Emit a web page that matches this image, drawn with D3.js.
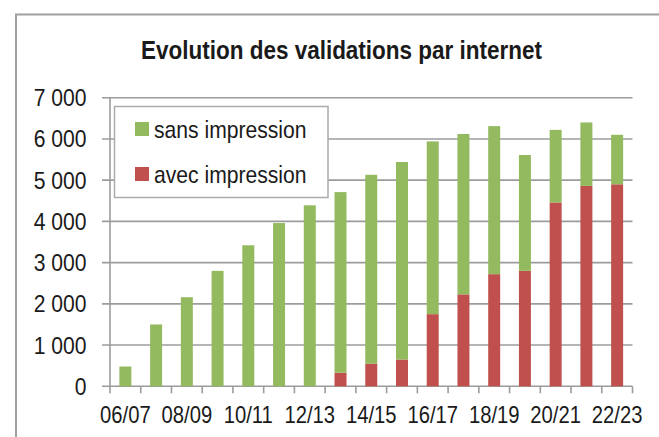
<!DOCTYPE html>
<html>
<head>
<meta charset="utf-8">
<script src="https://cdn.jsdelivr.net/npm/d3@7"></script>
<style>
  body { margin: 0; background: #fff; }
  text { font-family: "Liberation Sans", Arial, sans-serif; fill: #1a1a1a; }
</style>
</head>
<body>
<div id="chart"></div>
<script>
// data
const seasons = ["06/07","07/08","08/09","09/10","10/11","11/12","12/13","13/14","14/15",
                 "15/16","16/17","17/18","18/19","19/20","20/21","21/22","22/23"]
const avecImpression = [0,0,0,0,0,0,0,330,550,650,1750,2230,2720,2800,4460,4860,4900]
const sansImpression = [480,1500,2160,2800,3420,3960,4390,4380,4580,4790,4190,3890,3590,2810,1760,1540,1200]
const yTicks = [0,1000,2000,3000,4000,5000,6000,7000]
const xLabels = ["06/07","08/09","10/11","12/13","14/15","16/17","18/19","20/21","22/23"]
const seriesNames = ["sans impression","avec impression"]
const colors = { "avec impression": "#c0504d", "sans impression": "#93ba5f" }

const W = 659, H = 437
const sx = 0.88 // the source text is squeezed horizontally

const svg = d3.select("#chart").append("svg")
  .attr("width", W).attr("height", H)

// outer frame
svg.append("path")
  .attr("d", `M16,${H} L16,14.5 L${W},14.5`)
  .attr("fill", "none").attr("stroke", "#a0a0a0").attr("stroke-width", 2)

// title
svg.append("text")
  .attr("transform", `translate(341.5,59) scale(0.9,1)`)
  .attr("text-anchor", "middle")
  .style("font-size", "25px").style("font-weight", "bold")
  .text("Evolution des validations par internet")

const plot = { left: 110, right: 632.5, top: 97.7, bottom: 386.3 }

const x = d3.scaleBand()
  .domain(seasons)
  .range([plot.left, plot.right])
  .paddingInner(0.61).paddingOuter(0.305)

const y = d3.scaleLinear()
  .domain([0, 7000])
  .range([plot.bottom, plot.top])

// gridlines
svg.append("g")
  .selectAll("line")
  .data(yTicks)
  .join("line")
  .attr("x1", plot.left - 8).attr("x2", plot.right)
  .attr("y1", d => y(d)).attr("y2", d => y(d))
  .attr("stroke", "#9c9c9c").attr("stroke-width", 1.6)

// y labels
svg.append("g")
  .selectAll("text")
  .data(yTicks)
  .join("text")
  .attr("transform", d => `translate(86.5,${y(d) + 8.5}) scale(${sx},1)`)
  .attr("text-anchor", "end")
  .style("font-size", "24px")
  .text(d => d3.format(",")(d).replace(/,/g, " "))

// y axis line
svg.append("line")
  .attr("x1", plot.left).attr("x2", plot.left)
  .attr("y1", plot.top).attr("y2", plot.bottom)
  .attr("stroke", "#9c9c9c").attr("stroke-width", 1.6)

// x axis ticks at band edges
const edges = seasons.map(s => x(s) - x.step() * x.paddingInner() / 2)
edges.push(plot.right)
svg.append("g")
  .selectAll("line")
  .data(edges)
  .join("line")
  .attr("x1", d => d).attr("x2", d => d)
  .attr("y1", plot.bottom).attr("y2", plot.bottom + 7)
  .attr("stroke", "#9c9c9c").attr("stroke-width", 1.6)

// stacked bars
const table = seasons.map((s, i) => ({
  season: s,
  "avec impression": avecImpression[i],
  "sans impression": sansImpression[i]
}))
const stack = d3.stack().keys(["avec impression", "sans impression"])(table)

svg.append("g")
  .selectAll("g")
  .data(stack)
  .join("g")
  .attr("fill", d => colors[d.key])
  .selectAll("rect")
  .data(d => d.filter(v => v[1] > v[0]))
  .join("rect")
  .attr("x", d => x(d.data.season))
  .attr("width", x.bandwidth())
  .attr("y", d => y(d[1]))
  .attr("height", d => y(d[0]) - y(d[1]))

// x labels
svg.append("g")
  .selectAll("text")
  .data(xLabels)
  .join("text")
  .attr("transform", d => `translate(${x(d) + x.bandwidth() / 2},423) scale(${sx},1)`)
  .attr("text-anchor", "middle")
  .style("font-size", "23px")
  .text(d => d)

// legend
const legend = svg.append("g")
legend.append("rect")
  .attr("x", 114.5).attr("y", 106.5).attr("width", 213.5).attr("height", 91)
  .attr("fill", "#fff").attr("stroke", "#ababab").attr("stroke-width", 1.5)

const items = legend.selectAll("g")
  .data(seriesNames)
  .join("g")
  .attr("transform", (d, i) => `translate(135,${122 + i * 45})`)
items.append("rect")
  .attr("width", 14).attr("height", 14)
  .attr("fill", d => colors[d])
items.append("text")
  .attr("transform", `translate(19,15.5) scale(${sx},1)`)
  .style("font-size", "24px")
  .text(d => d)
</script>
</body>
</html>
